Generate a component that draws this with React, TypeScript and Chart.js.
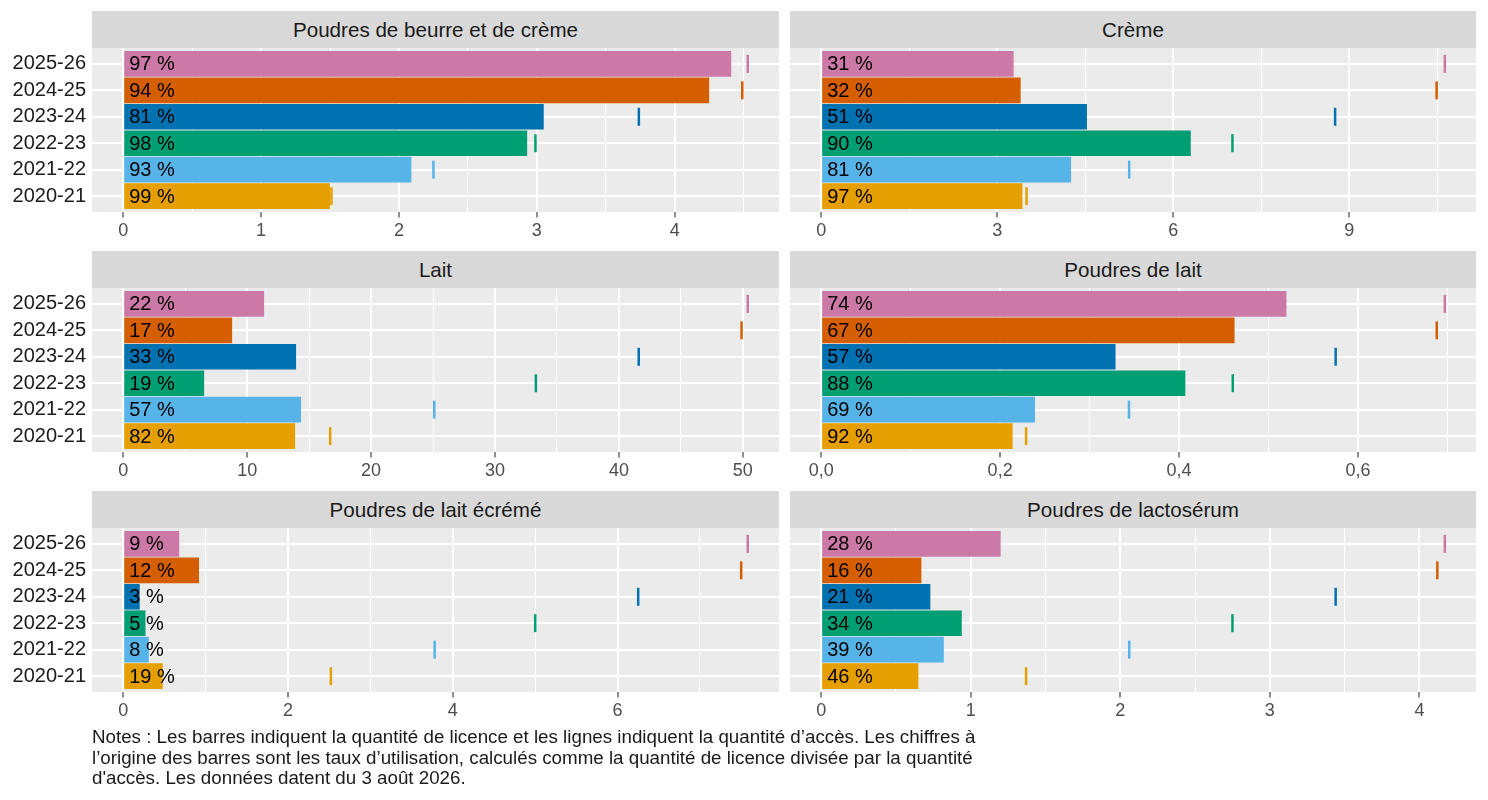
import React, { useEffect, useRef } from 'react';
import { Chart, registerables } from 'chart.js';

Chart.register(...registerables);

const FONT = '"Liberation Sans", Arial, sans-serif';
Chart.defaults.font.family = FONT;

// years, bottom to top
const years = ['2020-21', '2021-22', '2022-23', '2023-24', '2024-25', '2025-26'];
const yearColors = ['#E69F00', '#56B4E9', '#009E73', '#0072B2', '#D55E00', '#CC79A7'];

const titles = [
  'Poudres de beurre et de crème',
  'Crème',
  'Lait',
  'Poudres de lait',
  'Poudres de lait écrémé',
  'Poudres de lactosérum',
];
// major tick step per panel
const tickSteps = [1, 3, 10, 0.2, 2, 1];

// licence (bars), accès (ticks), taux d'utilisation (labels)
const beurreLicence = [1.5, 2.09, 2.93, 3.05, 4.25, 4.41];
const beurreAcces = [1.51, 2.25, 2.99, 3.74, 4.49, 4.53];
const beurreTaux = [99, 93, 98, 81, 94, 97];

const cremeLicence = [3.43, 4.26, 6.3, 4.53, 3.4, 3.28];
const cremeAcces = [3.5, 5.25, 7.01, 8.76, 10.49, 10.63];
const cremeTaux = [97, 81, 90, 51, 32, 31];

const laitLicence = [13.87, 14.35, 6.53, 13.95, 8.79, 11.37];
const laitAcces = [16.7, 25.1, 33.3, 41.6, 49.9, 50.4];
const laitTaux = [82, 57, 19, 33, 17, 22];

const poudreLaitLicence = [0.214, 0.239, 0.407, 0.329, 0.462, 0.52];
const poudreLaitAcces = [0.229, 0.344, 0.46, 0.575, 0.688, 0.697];
const poudreLaitTaux = [92, 69, 88, 57, 67, 74];

const ecremeLicence = [0.48, 0.31, 0.27, 0.2, 0.92, 0.68];
const ecremeAcces = [2.52, 3.78, 5.0, 6.25, 7.5, 7.58];
const ecremeTaux = [19, 8, 5, 3, 12, 9];

const lactoLicence = [0.65, 0.82, 0.94, 0.73, 0.67, 1.2];
const lactoAcces = [1.37, 2.06, 2.75, 3.44, 4.12, 4.17];
const lactoTaux = [46, 39, 34, 21, 16, 28];

interface PanelDef {
  title: string;
  licence: number[];
  acces: number[];
  taux: number[];
  step: number;
}

const panels: PanelDef[] = [
  { title: titles[0], licence: beurreLicence, acces: beurreAcces, taux: beurreTaux, step: tickSteps[0] },
  { title: titles[1], licence: cremeLicence, acces: cremeAcces, taux: cremeTaux, step: tickSteps[1] },
  { title: titles[2], licence: laitLicence, acces: laitAcces, taux: laitTaux, step: tickSteps[2] },
  { title: titles[3], licence: poudreLaitLicence, acces: poudreLaitAcces, taux: poudreLaitTaux, step: tickSteps[3] },
  { title: titles[4], licence: ecremeLicence, acces: ecremeAcces, taux: ecremeTaux, step: tickSteps[4] },
  { title: titles[5], licence: lactoLicence, acces: lactoAcces, taux: lactoTaux, step: tickSteps[5] },
];

const panelBg = {
  id: 'panelBg',
  beforeDraw(chart: any) {
    const { ctx, chartArea: a } = chart;
    ctx.save();
    ctx.fillStyle = '#EBEBEB';
    ctx.fillRect(a.left, a.top, a.right - a.left, a.bottom - a.top);
    ctx.restore();
  },
};

const rateLabels = (taux: number[]) => ({
  id: 'rateLabels',
  afterDatasetsDraw(chart: any) {
    const { ctx, scales } = chart;
    const x0 = scales.x.getPixelForValue(0) + 6;
    ctx.save();
    ctx.font = `20px ${FONT}`;
    ctx.fillStyle = '#000000';
    ctx.textBaseline = 'middle';
    taux.forEach((t, i) => ctx.fillText(`${t} %`, x0, scales.y.getPixelForValue(i) + 1));
    ctx.restore();
  },
});

const noPadding = (s: any) => {
  s.paddingTop = 0;
  s.paddingBottom = 0;
  s.paddingLeft = 0;
  s.paddingRight = 0;
};

const Panel: React.FC<{ p: PanelDef; col: number; row: number }> = ({ p, col, row }) => {
  const canvasRef = useRef<HTMLCanvasElement>(null);
  const chartRef = useRef<Chart>();

  useEffect(() => {
    if (!canvasRef.current) return;
    const top = Math.max(...p.acces, ...p.licence);
    const isMajor = (v: number) => Math.abs(v / p.step - Math.round(v / p.step)) < 1e-6;
    const fmt = (v: number) => (p.step < 1 ? v.toFixed(1).replace('.', ',') : String(Math.round(v)));

    chartRef.current = new Chart(canvasRef.current, {
      type: 'bar',
      data: {
        datasets: [
          {
            type: 'scatter',
            data: p.acces.map((x, i) => ({ x, y: i })),
            pointStyle: 'line',
            pointRotation: 90,
            pointRadius: 9,
            pointBorderWidth: 2.5,
            pointBorderColor: yearColors,
            pointBackgroundColor: yearColors,
            order: 0,
          } as any,
          {
            type: 'bar',
            data: p.licence.map((x, i) => ({ x, y: i })),
            backgroundColor: yearColors,
            barPercentage: 0.97,
            categoryPercentage: 1,
            order: 1,
          } as any,
        ],
      },
      options: {
        animation: false,
        responsive: true,
        maintainAspectRatio: false,
        events: [],
        indexAxis: 'y',
        layout: { padding: 0, autoPadding: false },
        plugins: { legend: { display: false }, tooltip: { enabled: false } },
        scales: {
          x: {
            type: 'linear',
            min: -0.05 * top,
            max: 1.05 * top,
            offset: false,
            afterBuildTicks: (s: any) => {
              const t = [];
              for (let k = 0; (k * p.step) / 2 <= s.max + 1e-9; k++) t.push({ value: +((k * p.step) / 2).toFixed(6) });
              s.ticks = t;
            },
            afterFit: (s: any) => {
              s.height = 36;
              noPadding(s);
            },
            border: { display: false },
            grid: {
              color: '#FFFFFF',
              lineWidth: (c: any) => (c.tick && isMajor(c.tick.value) ? 2 : 1),
              drawTicks: true,
              tickLength: 5.5,
              tickWidth: 1.1,
              tickColor: (c: any) => (c.tick && isMajor(c.tick.value) ? '#333333' : 'rgba(0,0,0,0)'),
              offset: false,
            },
            ticks: {
              autoSkip: false,
              maxRotation: 0,
              padding: 3,
              color: '#4D4D4D',
              font: { size: 18 },
              callback: (v: any) => (isMajor(Number(v)) ? fmt(Number(v)) : ''),
            },
          },
          y: {
            type: 'linear',
            min: -0.6,
            max: 5.6,
            offset: false,
            afterBuildTicks: (s: any) => {
              s.ticks = years.map((_, i) => ({ value: i }));
            },
            afterFit: (s: any) => {
              s.width = col === 0 ? 92 : 0;
              noPadding(s);
            },
            border: { display: false },
            grid: { color: '#FFFFFF', lineWidth: 2, drawTicks: false, offset: false },
            ticks: {
              display: col === 0,
              autoSkip: false,
              padding: 6,
              color: '#1A1A1A',
              font: { size: 20 },
              callback: (v: any) => years[Number(v)] ?? '',
            },
          },
        },
      } as any,
      plugins: [panelBg, rateLabels(p.taux)],
    });

    return () => {
      if (chartRef.current) {
        chartRef.current.destroy();
      }
    };
  }, [p, col]);

  const plotLeft = col === 0 ? 92 : 790;
  const plotWidth = col === 0 ? 687 : 686;
  const canvasLeft = col === 0 ? 0 : 790;
  const canvasWidth = col === 0 ? 779 : 686;
  const stripTop = 11 + row * 240;

  return (
    <>
      <div
        style={{
          position: 'absolute',
          left: plotLeft,
          top: stripTop,
          width: plotWidth,
          height: 37,
          background: '#D9D9D9',
          color: '#1A1A1A',
          font: `20.6px ${FONT}`,
          display: 'flex',
          alignItems: 'center',
          justifyContent: 'center',
        }}
      >
        {p.title}
      </div>
      <div style={{ position: 'absolute', left: canvasLeft, top: stripTop + 37, width: canvasWidth, height: 200 }}>
        <canvas ref={canvasRef} />
      </div>
    </>
  );
};

const App: React.FC = () => (
  <div
    style={{
      position: 'absolute',
      left: 0,
      top: 0,
      width: 1488,
      height: 800,
      background: '#FFFFFF',
      overflow: 'hidden',
    }}
  >
    {panels.map((p, i) => (
      <Panel key={p.title} p={p} col={i % 2} row={Math.floor(i / 2)} />
    ))}
    <div
      style={{
        position: 'absolute',
        left: 92,
        top: 727,
        font: `18.75px ${FONT}`,
        lineHeight: '20.5px',
        color: '#1A1A1A',
        whiteSpace: 'nowrap',
      }}
    >
      Notes : Les barres indiquent la quantité de licence et les lignes indiquent la quantité d’accès. Les chiffres à
      <br />
      l’origine des barres sont les taux d’utilisation, calculés comme la quantité de licence divisée par la quantité
      <br />
      d'accès. Les données datent du 3 août 2026.
    </div>
  </div>
);

export default App;
